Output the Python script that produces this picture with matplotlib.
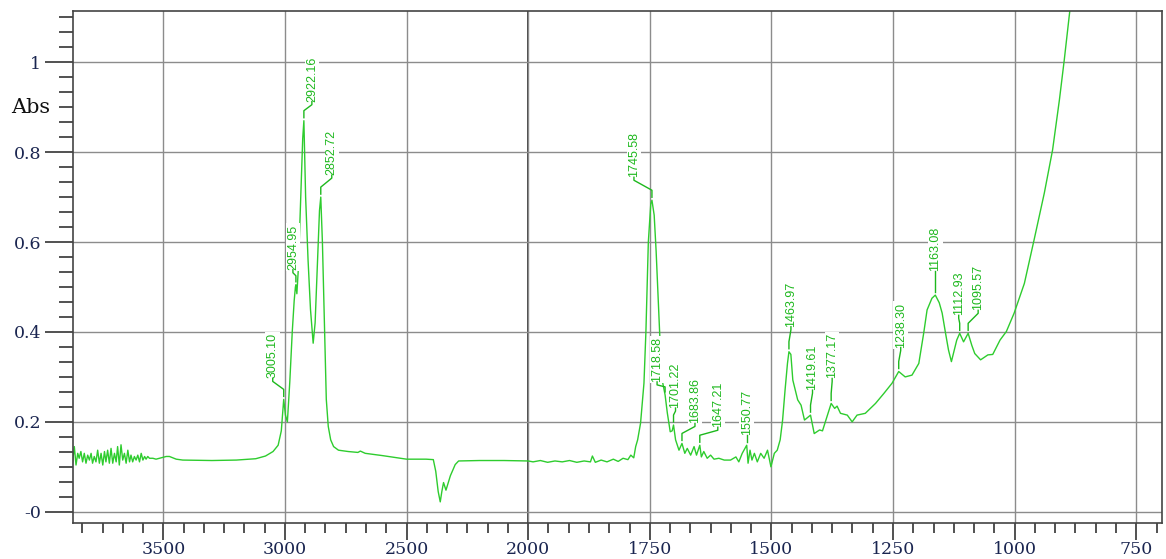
import numpy as np
import matplotlib
matplotlib.use("Agg")
import matplotlib.pyplot as plt
from matplotlib.lines import Line2D
from matplotlib.transforms import IdentityTransform

# Spectre IR (absorbance) : nombre d'onde (cm-1) et absorbance
nombre_onde = [
    3873, 3866, 3859, 3852, 3846, 3839, 3832, 3825, 3818, 3811, 3804, 3797,
    3791, 3784, 3777, 3770, 3763, 3756, 3749, 3742, 3736, 3729, 3722, 3715,
    3708, 3701, 3694, 3688, 3681, 3674, 3667, 3660, 3653, 3646, 3639, 3633,
    3626, 3619, 3612, 3605, 3598, 3591, 3584, 3577, 3571, 3564, 3557, 3543,
    3530, 3516, 3502, 3488, 3475, 3447, 3420, 3300, 3200, 3120, 3080, 3049,
    3028, 3015, 3008, 3005.10, 2998, 2990, 2980, 2970, 2962, 2957, 2954.95,
    2951, 2945, 2935, 2927, 2922.16, 2915, 2905, 2895, 2884, 2876, 2866,
    2858, 2852.72, 2846, 2838, 2830, 2822, 2812, 2800, 2780, 2740, 2700,
    2690, 2670, 2600, 2500, 2420, 2390, 2380, 2370, 2361.5, 2355, 2348,
    2338, 2320, 2300, 2286, 2200, 2100, 2000,
    1990, 1975, 1960, 1945, 1930, 1915, 1900, 1885, 1872, 1868, 1862, 1850,
    1838, 1825, 1815, 1805, 1795, 1789, 1783, 1779, 1775, 1769, 1762, 1758,
    1753, 1748, 1745.58, 1741, 1737, 1733, 1729, 1724, 1718.58, 1714, 1708,
    1704, 1701.22, 1697, 1690, 1683.86, 1678, 1673, 1666, 1659, 1654,
    1647.21, 1644, 1639, 1632, 1625, 1618, 1608, 1597, 1584, 1573, 1567,
    1560, 1555, 1550.77, 1548, 1544, 1540, 1535, 1529, 1522, 1515, 1508,
    1501, 1494, 1488, 1482, 1477, 1472, 1467, 1463.97, 1460, 1456, 1446,
    1439, 1432, 1419.61, 1412, 1401, 1395, 1388, 1377.17, 1370, 1365, 1358,
    1344, 1334, 1324, 1307, 1286, 1269, 1252, 1238.30, 1225, 1211, 1197,
    1187, 1180, 1170, 1163.08, 1155, 1149, 1142, 1136, 1130, 1124, 1119,
    1112.93, 1105, 1095.57, 1088, 1082, 1070, 1055, 1045, 1030, 1017, 1001,
    980, 960, 939, 922, 908, 898, 887, 876,
]
absorbance = [
    0.111, 0.145, 0.104, 0.130, 0.119, 0.134, 0.111, 0.130, 0.108, 0.126,
    0.115, 0.130, 0.108, 0.123, 0.111, 0.137, 0.108, 0.130, 0.104, 0.134,
    0.111, 0.137, 0.108, 0.141, 0.108, 0.130, 0.111, 0.145, 0.104, 0.149,
    0.115, 0.130, 0.108, 0.137, 0.111, 0.126, 0.111, 0.123, 0.115, 0.126,
    0.111, 0.130, 0.115, 0.123, 0.117, 0.123, 0.119, 0.119, 0.117, 0.119,
    0.121, 0.123, 0.123, 0.117, 0.115, 0.114, 0.115, 0.118, 0.124, 0.134,
    0.148, 0.180, 0.230, 0.250, 0.215, 0.200, 0.290, 0.400, 0.470, 0.500,
    0.505, 0.485, 0.540, 0.700, 0.830, 0.870, 0.700, 0.560, 0.450, 0.375,
    0.420, 0.560, 0.670, 0.700, 0.600, 0.420, 0.250, 0.190, 0.160, 0.145,
    0.137, 0.134, 0.132, 0.135, 0.130, 0.125, 0.117, 0.117, 0.116, 0.090,
    0.045, 0.022, 0.045, 0.065, 0.048, 0.080, 0.105, 0.113, 0.114, 0.114,
    0.113,
    0.111, 0.114, 0.110, 0.113, 0.111, 0.114, 0.110, 0.113, 0.111, 0.124,
    0.110, 0.115, 0.111, 0.117, 0.112, 0.119, 0.116, 0.126, 0.120, 0.145,
    0.160, 0.197, 0.286, 0.400, 0.600, 0.685, 0.693, 0.660, 0.580, 0.480,
    0.380, 0.290, 0.260, 0.220, 0.178, 0.180, 0.193, 0.160, 0.137, 0.152,
    0.130, 0.141, 0.126, 0.145, 0.126, 0.148, 0.122, 0.134, 0.119, 0.126,
    0.117, 0.119, 0.115, 0.115, 0.122, 0.111, 0.130, 0.140, 0.148, 0.108,
    0.137, 0.115, 0.130, 0.111, 0.130, 0.119, 0.137, 0.100, 0.130, 0.137,
    0.160, 0.204, 0.270, 0.330, 0.356, 0.350, 0.293, 0.249, 0.237, 0.204,
    0.215, 0.174, 0.182, 0.180, 0.204, 0.241, 0.230, 0.235, 0.219, 0.215,
    0.200, 0.215, 0.219, 0.241, 0.263, 0.286, 0.312, 0.300, 0.304, 0.330,
    0.397, 0.449, 0.475, 0.482, 0.465, 0.442, 0.397, 0.360, 0.334, 0.360,
    0.382, 0.397, 0.378, 0.397, 0.370, 0.352, 0.338, 0.349, 0.350, 0.382,
    0.401, 0.442, 0.508, 0.605, 0.709, 0.805, 0.916, 1.005, 1.109, 1.220,
]

# Pics annotés
pics = [3005.10, 2954.95, 2922.16, 2852.72, 1745.58, 1718.58, 1701.22,
        1683.86, 1647.21, 1550.77, 1463.97, 1419.61, 1377.17, 1238.30,
        1163.08, 1112.93, 1095.57]
# décalage des étiquettes (pixels) par rapport au pic
decalages = [(-11, 21), (-3, 15), (8, 19), (11, 22), (-18, 23), (-8, 13),
             (2, 17), (13, 20), (18, 18), (0, 10), (2, 25), (2, 25), (1, 25),
             (2, 24), (0, 24), (-1, 18), (10, 23)]

ticks_x = [3500, 3000, 2500, 2000, 1750, 1500, 1250, 1000, 750]
ticks_y = [0, 0.2, 0.4, 0.6, 0.8, 1]
labels_y = ['-0', '0.2', '0.4', '0.6', '0.8', '1']

vert = '#2ecc2e'
vert_txt = '#1db81d'
bleu = '#1a2550'


# échelle compressée de moitié au-dessus de 2000 cm-1
def direct(w):
    w = np.asarray(w, dtype=float)
    return np.where(w > 2000, 2000 + (w - 2000) / 2, w)


def inverse(v):
    v = np.asarray(v, dtype=float)
    return np.where(v > 2000, 2000 + (v - 2000) * 2, v)


fig = plt.figure(figsize=(11.66, 5.59), dpi=100)
ax = fig.add_axes([0.0629, 0.0644, 0.9337, 0.9159])
ax.set_xscale('function', functions=(direct, inverse))

ax.plot(nombre_onde, absorbance, color=vert, lw=1.0, zorder=2)

ax.set_xlim(3870, 697)
ax.set_ylim(-0.025, 1.114)

ax.set_xticks(ticks_x)
ax.set_xticklabels([str(t) for t in ticks_x])
mineurs_x = list(np.arange(3500 + 500 / 6, 3870, 500 / 6))
mineurs_x += list(np.arange(2000 + 500 / 6, 3500, 500 / 6))
mineurs_x += list(np.arange(2000 - 250 / 6, 697, -250 / 6))
ax.set_xticks(mineurs_x, minor=True)

ax.set_yticks(ticks_y)
ax.set_yticklabels(labels_y)
ax.set_yticks(np.arange(0, 1.12, 0.2 / 6), minor=True)

for lab in ax.get_xticklabels() + ax.get_yticklabels():
    lab.set_family('DejaVu Serif')
    lab.set_fontsize(12.5)
    lab.set_color(bleu)

ax.tick_params(axis='y', which='major', length=20, width=1.2, pad=3, color='#333333')
ax.tick_params(axis='y', which='minor', length=10, width=1.2, color='#333333')
ax.tick_params(axis='x', which='major', length=12, width=1.2, pad=1, color='#333333')
ax.tick_params(axis='x', which='minor', length=7, width=1.2, color='#333333')

ax.grid(True, which='major', color='#8c8c8c', lw=1.0, zorder=0)
ax.axvline(2000, color='#222222', lw=1.2, zorder=1)
for s in ax.spines.values():
    s.set_color('#444444')
    s.set_linewidth(1.2)

ax.text(-0.021, 0.9, 'Abs', transform=ax.get_yaxis_transform(), ha='right',
        va='center', family='DejaVu Serif', fontsize=15, color='#111111')

# étiquettes des pics avec leur trait de rappel
x_tri = np.array(nombre_onde)[::-1]
y_tri = np.array(absorbance)[::-1]
for w, (dx, dy) in zip(pics, decalages):
    y = np.interp(w, x_tri, y_tri)
    ax.annotate(f'{w:.2f}', xy=(w, y), xytext=(dx, dy),
                textcoords='offset pixels', rotation=90, ha='center',
                va='bottom', color=vert_txt, fontsize=9,
                family='Liberation Sans', zorder=4,
                bbox=dict(boxstyle='square,pad=0.1', fc='white', ec='none'))
    px, py = ax.transData.transform((w, y))
    bas = 3
    v1 = min(7, (dy - bas) / 2)
    xs = [px, px, px + dx, px + dx]
    ys = [py + bas, py + bas + v1, py + dy - 3, py + dy]
    fig.add_artist(Line2D(xs, ys, transform=IdentityTransform(),
                          color=vert_txt, lw=1, zorder=5))

fig.savefig('out.png', dpi=100)
